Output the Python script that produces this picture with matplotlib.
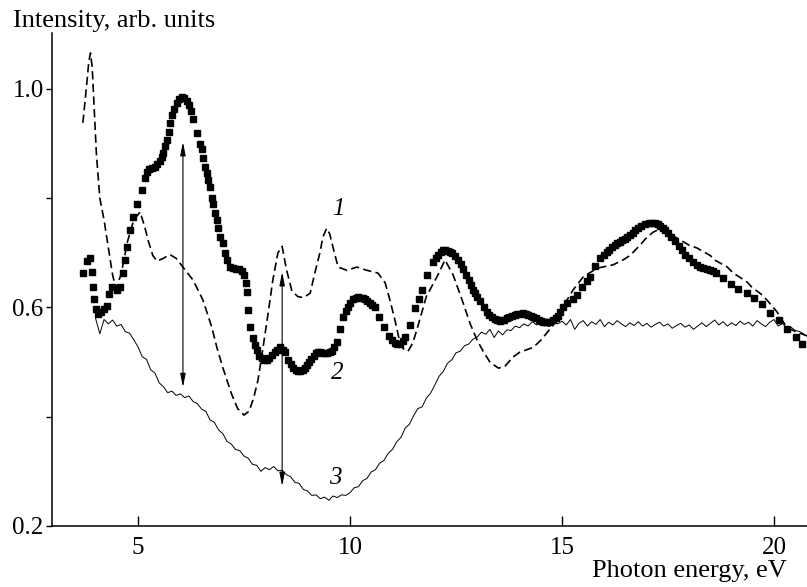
import numpy as np
import matplotlib
matplotlib.use('Agg')
import matplotlib.pyplot as plt

plt.rcParams['font.family'] = ['Liberation Serif', 'DejaVu Serif']

# curve 1 (dashed)
e1 = [3.70, 3.78, 3.84, 3.88, 3.92, 3.97, 4.02, 4.10, 4.20, 4.30, 4.40, 4.48, 4.60, 4.75, 4.90,
      5.05, 5.15, 5.25, 5.35, 5.45, 5.60, 5.75, 5.90, 6.00, 6.15, 6.30, 6.53, 6.74, 6.86, 7.00,
      7.20, 7.35, 7.50, 7.62, 7.73, 7.83, 7.95, 8.07, 8.18, 8.30, 8.40, 8.50, 8.63, 8.77, 8.90,
      9.06, 9.17, 9.29, 9.36, 9.45, 9.52, 9.60, 9.72, 9.93, 10.16, 10.40, 10.66, 10.83, 10.94, 11.06,
      11.15, 11.25, 11.37, 11.48, 11.58, 11.80, 12.05, 12.24, 12.43, 12.67, 12.83, 13.00, 13.14, 13.30, 13.50,
      13.65, 13.84, 14.00, 14.32, 14.50, 14.70, 14.88, 15.05, 15.26, 15.50, 15.83, 16.20, 16.44, 16.60, 16.84,
      16.96, 17.15, 17.36, 17.50, 17.67, 18.00, 18.18, 18.50, 18.60, 18.90, 19.04, 19.36, 19.48, 19.72, 19.83,
      20.07, 20.19, 20.30, 20.50, 20.78]
i1 = [0.938, 1.000, 1.050, 1.066, 1.040, 0.960, 0.880, 0.800, 0.760, 0.710, 0.660, 0.635, 0.660, 0.720, 0.760,
      0.775, 0.750, 0.720, 0.695, 0.685, 0.690, 0.697, 0.690, 0.680, 0.665, 0.650, 0.614, 0.564, 0.527, 0.490,
      0.443, 0.415, 0.403, 0.410, 0.435, 0.467, 0.527, 0.590, 0.650, 0.700, 0.712, 0.670, 0.630, 0.620, 0.618,
      0.626, 0.663, 0.700, 0.729, 0.745, 0.735, 0.710, 0.674, 0.668, 0.674, 0.668, 0.663, 0.645, 0.614, 0.577,
      0.545, 0.525, 0.520, 0.535, 0.560, 0.620, 0.656, 0.687, 0.660, 0.608, 0.571, 0.540, 0.520, 0.500, 0.489,
      0.492, 0.509, 0.518, 0.527, 0.540, 0.559, 0.577, 0.605, 0.632, 0.656, 0.672, 0.678, 0.687, 0.695, 0.714,
      0.725, 0.738, 0.745, 0.738, 0.729, 0.714, 0.709, 0.695, 0.687, 0.674, 0.663, 0.647, 0.637, 0.623, 0.614,
      0.592, 0.577, 0.564, 0.556, 0.548]

# curve 2 (squares), (energy, intensity)
curve2 = [
    (3.70, 0.663), (3.80, 0.685), (3.87, 0.690), (3.92, 0.665), (3.94, 0.637), (3.97, 0.615), (4.00, 0.597),
    (4.05, 0.588), (4.12, 0.592), (4.20, 0.598), (4.27, 0.603), (4.32, 0.625), (4.39, 0.637), (4.50, 0.632),
    (4.58, 0.637), (4.65, 0.663), (4.69, 0.687), (4.74, 0.710), (4.81, 0.742), (4.88, 0.766), (4.98, 0.790),
    (5.09, 0.815), (5.17, 0.837), (5.21, 0.848), (5.27, 0.853), (5.33, 0.856), (5.39, 0.858), (5.45, 0.862),
    (5.51, 0.868), (5.56, 0.875), (5.60, 0.883), (5.64, 0.895), (5.68, 0.907), (5.72, 0.922), (5.75, 0.937),
    (5.80, 0.952), (5.85, 0.964), (5.91, 0.974), (5.97, 0.981), (6.03, 0.985), (6.09, 0.984), (6.15, 0.978),
    (6.20, 0.970), (6.25, 0.960), (6.30, 0.945), (6.39, 0.920), (6.46, 0.900), (6.50, 0.890), (6.53, 0.874),
    (6.58, 0.857), (6.63, 0.846), (6.65, 0.833), (6.70, 0.820), (6.74, 0.800), (6.77, 0.790), (6.82, 0.773),
    (6.86, 0.760), (6.89, 0.745), (6.93, 0.729), (7.00, 0.718), (7.05, 0.700), (7.10, 0.687), (7.17, 0.674),
    (7.24, 0.672), (7.31, 0.671), (7.38, 0.670), (7.45, 0.667), (7.50, 0.660), (7.54, 0.645), (7.57, 0.628),
    (7.60, 0.595), (7.64, 0.564), (7.71, 0.544), (7.76, 0.532), (7.80, 0.522), (7.86, 0.512), (7.92, 0.507),
    (7.98, 0.504), (8.04, 0.504), (8.10, 0.508), (8.16, 0.513), (8.22, 0.518), (8.28, 0.522), (8.35, 0.527),
    (8.41, 0.523), (8.47, 0.518), (8.54, 0.504), (8.60, 0.496), (8.66, 0.490), (8.72, 0.485), (8.77, 0.483),
    (8.83, 0.483), (8.88, 0.485), (8.93, 0.490), (8.98, 0.495), (9.03, 0.500), (9.08, 0.506), (9.15, 0.512),
    (9.20, 0.516), (9.25, 0.518), (9.30, 0.518), (9.35, 0.517), (9.40, 0.516), (9.46, 0.516), (9.52, 0.518),
    (9.58, 0.521), (9.63, 0.527), (9.69, 0.537), (9.76, 0.560), (9.83, 0.582), (9.90, 0.594), (9.95, 0.600),
    (10.01, 0.608), (10.07, 0.615), (10.13, 0.618), (10.19, 0.619), (10.25, 0.618), (10.30, 0.617), (10.35, 0.615),
    (10.41, 0.612), (10.47, 0.608), (10.53, 0.604), (10.59, 0.600), (10.68, 0.582), (10.80, 0.564), (10.92, 0.547),
    (11.00, 0.540), (11.06, 0.535), (11.12, 0.533), (11.18, 0.534), (11.24, 0.539), (11.30, 0.546), (11.41, 0.568),
    (11.53, 0.599), (11.62, 0.616), (11.70, 0.632), (11.82, 0.659), (11.96, 0.683), (12.02, 0.691), (12.08, 0.697),
    (12.14, 0.702), (12.20, 0.705), (12.25, 0.705), (12.30, 0.704), (12.35, 0.702), (12.40, 0.700), (12.47, 0.695),
    (12.55, 0.687), (12.61, 0.679), (12.67, 0.670), (12.74, 0.660), (12.80, 0.650), (12.85, 0.641), (12.90, 0.632),
    (12.95, 0.626), (13.00, 0.620), (13.07, 0.612), (13.15, 0.600), (13.23, 0.592), (13.29, 0.587), (13.35, 0.582),
    (13.41, 0.579), (13.47, 0.577), (13.53, 0.576), (13.58, 0.577), (13.64, 0.578), (13.70, 0.580), (13.76, 0.582),
    (13.82, 0.584), (13.88, 0.586), (13.95, 0.588), (14.01, 0.589), (14.08, 0.590), (14.14, 0.589), (14.20, 0.587),
    (14.26, 0.585), (14.32, 0.583), (14.38, 0.580), (14.45, 0.578), (14.50, 0.576), (14.55, 0.574), (14.60, 0.573),
    (14.65, 0.573), (14.72, 0.574), (14.79, 0.577), (14.85, 0.580), (14.90, 0.584), (14.96, 0.591), (15.02, 0.600),
    (15.12, 0.608), (15.25, 0.615), (15.35, 0.622), (15.48, 0.638), (15.58, 0.648), (15.66, 0.656), (15.78, 0.676),
    (15.90, 0.690), (15.98, 0.696), (16.06, 0.701), (16.12, 0.706), (16.18, 0.711), (16.24, 0.715), (16.30, 0.718),
    (16.36, 0.720), (16.42, 0.723), (16.48, 0.726), (16.53, 0.729), (16.60, 0.732), (16.67, 0.736), (16.73, 0.741),
    (16.79, 0.745), (16.87, 0.749), (16.96, 0.753), (17.04, 0.755), (17.12, 0.755), (17.19, 0.755), (17.26, 0.753),
    (17.32, 0.750), (17.38, 0.745), (17.44, 0.741), (17.50, 0.736), (17.58, 0.729), (17.67, 0.722), (17.75, 0.713),
    (17.83, 0.705), (17.91, 0.697), (18.00, 0.690), (18.09, 0.684), (18.18, 0.678), (18.26, 0.675), (18.33, 0.672),
    (18.41, 0.670), (18.50, 0.668), (18.57, 0.666), (18.63, 0.663), (18.80, 0.654), (18.99, 0.643), (19.15, 0.634),
    (19.36, 0.626), (19.53, 0.617), (19.72, 0.606), (19.91, 0.590), (20.12, 0.577), (20.30, 0.560), (20.52, 0.546),
    (20.66, 0.533),
]
e2 = [p[0] for p in curve2]
i2 = [p[1] for p in curve2]

# curve 3 (thin solid), one row per eV starting at 4.0 eV, step 0.1 eV
e3 = np.arange(40, 208) / 10
i3 = [0.580, 0.552, 0.578, 0.570, 0.577, 0.566, 0.569, 0.556, 0.553, 0.541,
      0.528, 0.510, 0.505, 0.486, 0.480, 0.462, 0.455, 0.444, 0.447, 0.439,
      0.442, 0.435, 0.438, 0.428, 0.424, 0.414, 0.410, 0.394, 0.390, 0.376,
      0.369, 0.355, 0.350, 0.340, 0.338, 0.328, 0.324, 0.313, 0.311, 0.300,
      0.307, 0.303, 0.309, 0.301, 0.302, 0.294, 0.290, 0.280, 0.278, 0.267,
      0.264, 0.256, 0.257, 0.250, 0.253, 0.247, 0.255, 0.252, 0.257, 0.256,
      0.261, 0.270, 0.272, 0.283, 0.287, 0.299, 0.303, 0.315, 0.320, 0.333,
      0.340, 0.354, 0.362, 0.379, 0.386, 0.402, 0.415, 0.418, 0.434, 0.443,
      0.458, 0.474, 0.483, 0.498, 0.504, 0.517, 0.520, 0.530, 0.533, 0.542,
      0.546, 0.555, 0.551, 0.560, 0.545, 0.557, 0.550, 0.559, 0.558, 0.566,
      0.563, 0.570, 0.566, 0.574, 0.568, 0.575, 0.569, 0.565, 0.574, 0.570,
      0.575, 0.568, 0.578, 0.560, 0.571, 0.576, 0.566, 0.574, 0.569, 0.578,
      0.565, 0.573, 0.568, 0.576, 0.570, 0.565, 0.572, 0.567, 0.574, 0.566,
      0.571, 0.564, 0.569, 0.573, 0.566, 0.570, 0.562, 0.567, 0.571, 0.564,
      0.568, 0.560, 0.566, 0.572, 0.565, 0.571, 0.577, 0.568, 0.574, 0.566,
      0.572, 0.567, 0.575, 0.569, 0.573, 0.566, 0.576, 0.570, 0.565, 0.573,
      0.578, 0.566, 0.571, 0.562, 0.564, 0.558, 0.556, 0.552]

# double arrows: x, lower end, upper end
arrow_x = [6.06, 8.40]
arrow_lo = [0.454, 0.273]
arrow_hi = [0.903, 0.665]

curve_labels = ['1', '2', '3']
label_pos = [(9.72, 0.78), (9.69, 0.48), (9.65, 0.288)]

fig = plt.figure(figsize=(8.07, 5.87), dpi=100)
ax = fig.add_axes([52 / 807, 61 / 587, 1 - 52 / 807, 493 / 587])

ax.plot(e1, i1, color='black', lw=1.2, linestyle=(0, (5, 2.6)))
ax.plot(e3, i3, color='black', lw=0.7)
ax.plot(e2, i2, color='black', linestyle='none', marker='s', markersize=4.5)

for x, lo, hi in zip(arrow_x, arrow_lo, arrow_hi):
    ax.annotate('', xy=(x, hi), xytext=(x, lo),
                arrowprops=dict(arrowstyle='<|-|>,head_length=0.8,head_width=0.16',
                                color='black', lw=0.8, shrinkA=0, shrinkB=0))

for txt, (x, y) in zip(curve_labels, label_pos):
    ax.text(x, y, txt, fontsize=18, style='italic', ha='center', va='center')

ax.set_xlim(2.972, 20.778)
ax.set_ylim(0.2, 1.1025)
ax.set_xticks([5, 10, 15, 20])
ax.set_yticks([0.2, 0.4, 0.6, 0.8, 1.0])
ax.set_yticklabels(['0.2', '', '0.6', '', '1.0'])
ax.tick_params(axis='x', direction='in', length=7, width=1.0, labelsize=18, pad=8)
ax.tick_params(axis='y', direction='out', length=4, width=1.0, labelsize=18, pad=2)
ax.spines['top'].set_visible(False)
ax.spines['right'].set_visible(False)
ax.spines['left'].set_linewidth(1.1)
ax.spines['bottom'].set_linewidth(1.1)

fig.text(13 / 807, 1 - 10 / 587, 'Intensity, arb. units', fontsize=19, ha='left', va='top')
fig.text(787 / 807, 1 - 560 / 587, 'Photon energy, eV', fontsize=19, ha='right', va='top')

fig.savefig('out.png', dpi=100)
